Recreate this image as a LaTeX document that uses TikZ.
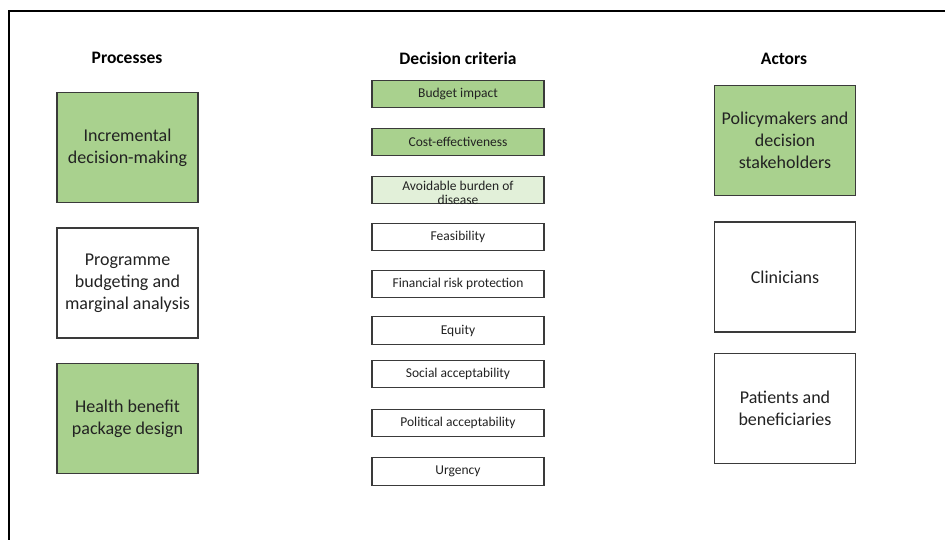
\documentclass[tikz,border=0pt]{standalone}
\usepackage{fontspec}
\setmainfont{Carlito}
\definecolor{boxgreen}{HTML}{A9D18E}
\definecolor{palegreen}{HTML}{E2F0D9}
\definecolor{boxline}{HTML}{3A3A3A}
\definecolor{txt}{HTML}{222222}
\begin{document}
\begin{tikzpicture}[x=1pt,y=-1pt,
  box/.style={draw=boxline, line width=1.4pt, inner sep=0pt, text=txt, align=center,
    font=\fontsize{18}{22}\selectfont, minimum width=141pt, minimum height=110pt},
  crit/.style={draw=boxline, line width=1.3pt, inner sep=0pt, text=txt, align=center,
    font=\fontsize{13.5}{15}\selectfont, minimum width=172pt, minimum height=27.5pt},
  hdr/.style={font=\bfseries\fontsize{17.5}{20}\selectfont, text=black},
  greenfill/.style={fill=boxgreen},
  palefill/.style={fill=palegreen},
  frame/.style={draw=black, line width=2pt}]
\useasboundingbox (0,0) rectangle (945,540);
\clip (0,0) rectangle (945,540);
\fill[white] (0,0) rectangle (945,540);
\coordinate (fa) at (8.5,560);
\coordinate (fb) at (8.5,11);
\coordinate (fc) at (960,11);
\draw[frame] (fa) -- (fb) -- (fc);

% headers
\node[hdr] (hp) at (127,58) {Processes};
\node[hdr] (hd) at (458,58) {Decision criteria};
\node[hdr] (ha) at (784,59) {Actors};

% processes
\node[box,greenfill] (p1) at (127.5,147.5) {Incremental\\decision-making};
\node[box] (p2) at (127.5,283) {Programme\\budgeting and\\marginal analysis};
\node[box,greenfill] (p3) at (127.5,418.5) {Health benefit\\package design};

% criteria
\node[crit,greenfill] (c1) at (458,94) {Budget impact};
\node[crit,greenfill] (c2) at (458,142) {Cost-effectiveness};
\node[crit,palefill] (c3) at (458,190) {};
\node[text=txt, align=center, inner sep=0pt, font=\fontsize{13.5}{14}\selectfont] (c3t) at (458,192.5) {Avoidable burden of\\disease};
\node[crit] (c4) at (458,237) {Feasibility};
\node[crit] (c5) at (458,284) {Financial risk protection};
\node[crit] (c6) at (458,330.5) {Equity};
\node[crit] (c7) at (458,374) {Social acceptability};
\node[crit] (c8) at (458,423) {Political acceptability};
\node[crit] (c9) at (458,471.5) {Urgency};

% actors
\node[box,greenfill] (a1) at (785,140.5) {Policymakers and\\decision\\stakeholders};
\node[box] (a2) at (785,277) {Clinicians};
\node[box] (a3) at (785,408.5) {Patients and\\beneficiaries};
\end{tikzpicture}
\end{document}
